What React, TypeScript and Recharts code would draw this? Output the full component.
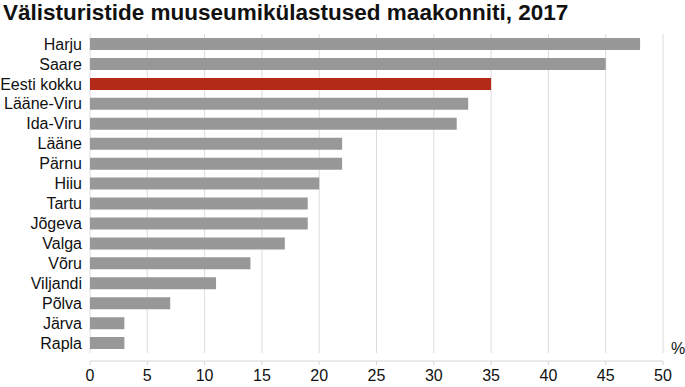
import { BarChart, Bar, XAxis, YAxis, CartesianGrid, Cell } from 'recharts';

const REGIONS = [
  'Harju', 'Saare', 'Eesti kokku', 'Lääne-Viru', 'Ida-Viru', 'Lääne', 'Pärnu', 'Hiiu',
  'Tartu', 'Jõgeva', 'Valga', 'Võru', 'Viljandi', 'Põlva', 'Järva', 'Rapla',
];
const SHARES = [48, 45, 35, 33, 32, 22, 22, 20, 19, 19, 17, 14, 11, 7, 3, 3];
const X_TICKS = [0, 5, 10, 15, 20, 25, 30, 35, 40, 45, 50];

const GRAY = '#989898';
const RED = '#b32b18';
const FONT = 'Arial, "Liberation Sans", sans-serif';

export default function App() {
  const data = REGIONS.map((name, i) => ({ name, value: SHARES[i] }));

  return (
    <div style={{ position: 'absolute', left: 0, top: 0, width: 685, height: 387, background: '#fff', fontFamily: FONT }}>
      <div style={{ position: 'absolute', left: 3, top: 0, fontSize: 22.5, fontWeight: 'bold', color: '#111', lineHeight: '26px' }}>
        Välisturistide muuseumikülastused maakonniti, 2017
      </div>
      <span style={{ position: 'absolute', left: 671, top: 340, fontSize: 16, color: '#111', lineHeight: '18px' }}>%</span>
      <BarChart
        width={685}
        height={387}
        data={data}
        layout="vertical"
        margin={{ top: 34, right: 22, bottom: 0, left: 0 }}
      >
        <CartesianGrid horizontal={false} stroke="#dcdcdc" y={34} height={319} />
        <XAxis
          type="number"
          domain={[0, 50]}
          ticks={X_TICKS}
          height={26}
          axisLine={{ stroke: '#d6d6d6' }}
          tickLine={{ stroke: '#d6d6d6' }}
          tickSize={4}
          tickMargin={5}
          tick={{ fill: '#111', fontSize: 16, fontFamily: FONT }}
          interval={0}
        />
        <YAxis
          type="category"
          dataKey="name"
          width={90}
          axisLine={false}
          tickLine={false}
          tickSize={0}
          tickMargin={8}
          padding={{ top: 0, bottom: 8 }}
          tick={{ fill: '#111', fontSize: 16, fontFamily: FONT }}
          interval={0}
        />
        <Bar dataKey="value" barSize={12} isAnimationActive={false}>
          {data.map((d, i) => (
            <Cell key={i} fill={d.name === 'Eesti kokku' ? RED : GRAY} />
          ))}
        </Bar>
      </BarChart>
    </div>
  );
}
